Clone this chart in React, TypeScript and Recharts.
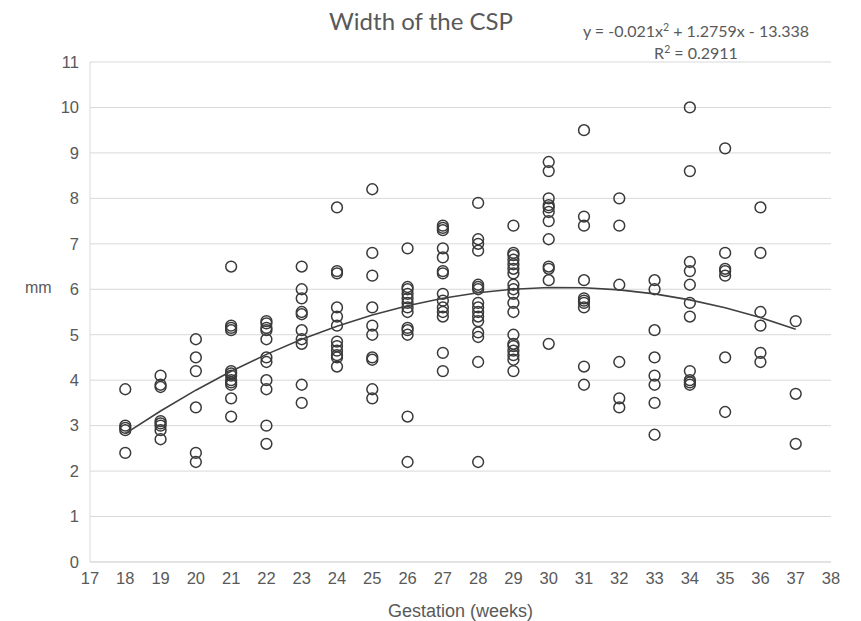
import React from "react";
import { ScatterChart, Scatter, XAxis, YAxis, CartesianGrid, Label } from "recharts";

const weeks = [18, 19, 20, 21, 22, 23, 24, 25, 26, 27, 28, 29, 30, 31, 32, 33, 34, 35, 36, 37];

const w18 = [3.8, 3.0, 2.95, 2.9, 2.4];
const w19 = [4.1, 3.9, 3.85, 3.1, 3.05, 3.0, 2.9, 2.7];
const w20 = [4.9, 4.5, 4.2, 3.4, 2.4, 2.2];
const w21 = [6.5, 5.2, 5.15, 5.1, 4.2, 4.15, 4.1, 4.0, 3.95, 3.9, 3.6, 3.2];
const w22 = [5.3, 5.25, 5.15, 5.1, 4.9, 4.5, 4.4, 4.0, 3.8, 3.0, 2.6];
const w23 = [6.5, 6.0, 5.8, 5.5, 5.45, 5.1, 4.9, 4.8, 3.9, 3.5];
const w24 = [7.8, 6.4, 6.35, 5.6, 5.4, 5.2, 4.85, 4.75, 4.65, 4.55, 4.5, 4.3];
const w25 = [8.2, 6.8, 6.3, 5.6, 5.2, 5.0, 4.5, 4.45, 3.8, 3.6];
const w26 = [6.9, 6.05, 6.0, 5.9, 5.8, 5.7, 5.6, 5.5, 5.15, 5.1, 5.0, 3.2, 2.2];
const w27 = [7.4, 7.35, 7.3, 6.9, 6.7, 6.4, 6.35, 5.9, 5.75, 5.6, 5.5, 5.4, 4.6, 4.2];
const w28 = [7.9, 7.1, 7.0, 6.85, 6.1, 6.05, 6.0, 5.7, 5.6, 5.5, 5.4, 5.3, 5.05, 4.95, 4.4, 2.2];
const w29 = [7.4, 6.8, 6.75, 6.65, 6.55, 6.45, 6.35, 6.1, 6.0, 5.9, 5.7, 5.5, 5.0, 4.8, 4.75, 4.65, 4.55, 4.45, 4.2];
const w30 = [8.8, 8.6, 8.0, 7.85, 7.8, 7.7, 7.5, 7.1, 6.5, 6.45, 6.2, 4.8];
const w31 = [9.5, 7.6, 7.4, 6.2, 5.8, 5.75, 5.7, 5.6, 4.3, 3.9];
const w32 = [8.0, 7.4, 6.1, 4.4, 3.6, 3.4];
const w33 = [6.2, 6.0, 5.1, 4.5, 4.1, 3.9, 3.5, 2.8];
const w34 = [10.0, 8.6, 6.6, 6.4, 6.1, 5.7, 5.4, 4.2, 4.0, 3.95, 3.9];
const w35 = [9.1, 6.8, 6.45, 6.4, 6.3, 4.5, 3.3];
const w36 = [7.8, 6.8, 5.5, 5.2, 4.6, 4.4];
const w37 = [5.3, 3.7, 2.6];

const valuesByWeek = [w18, w19, w20, w21, w22, w23, w24, w25, w26, w27, w28, w29, w30, w31, w32, w33, w34, w35, w36, w37];

// trend line values (y = -0.021x² + 1.2759x - 13.338) at each week
const trendValues = [2.824, 3.323, 3.78, 4.195, 4.568, 4.899, 5.188, 5.435, 5.639, 5.802, 5.923, 6.002, 6.039, 6.034, 5.987, 5.898, 5.767, 5.594, 5.378, 5.121];

const xTicks = [17, 18, 19, 20, 21, 22, 23, 24, 25, 26, 27, 28, 29, 30, 31, 32, 33, 34, 35, 36, 37, 38];
const yTicks = [0, 1, 2, 3, 4, 5, 6, 7, 8, 9, 10, 11];

const points = weeks.flatMap((w, i) => valuesByWeek[i].map((v) => ({ x: w, y: v })));
const trend = weeks.map((w, i) => ({ x: w, y: trendValues[i] }));

const OpenCircle = (props: any) => {
  const { cx, cy } = props;
  if (cx == null || cy == null) return <g />;
  return <circle cx={cx} cy={cy} r={5.4} fill="none" stroke="#3a3a3a" strokeWidth={1.5} />;
};
const NoShape = () => <g />;

const axisText = { fill: "#595959", fontSize: 16.5, fontFamily: "Liberation Sans, Arial, sans-serif" };
const supStyle: React.CSSProperties = { fontSize: 10.5, lineHeight: 0, verticalAlign: "super" };

export default function App() {
  return (
    <div style={{ position: "relative", width: 853, height: 613, background: "#fff" }}>
      <ScatterChart width={853} height={613} margin={{ top: 54, right: 30, bottom: 0, left: 0 }}>
        <CartesianGrid horizontal={true} vertical={false} stroke="#d9d9d9" strokeWidth={1} />
        <XAxis
          type="number"
          dataKey="x"
          domain={[17, 38]}
          ticks={xTicks}
          interval={0}
          allowDataOverflow
          tickLine={false}
          tickSize={0}
          tickMargin={10}
          axisLine={{ stroke: "#d9d9d9" }}
          tick={axisText}
          height={59}
        >
          <Label value="Gestation (weeks)" position="insideBottom" offset={4} style={{ fill: "#595959", fontSize: 18, fontFamily: "Liberation Sans, Arial, sans-serif" }} />
        </XAxis>
        <YAxis
          type="number"
          dataKey="y"
          domain={[0, 11]}
          ticks={yTicks}
          interval={0}
          allowDataOverflow
          tickLine={false}
          tickSize={0}
          tickMargin={11}
          axisLine={{ stroke: "#d9d9d9" }}
          tick={axisText}
          width={82}
        />
        <Scatter data={points} shape={OpenCircle} isAnimationActive={false} />
        <Scatter
          data={trend}
          shape={NoShape}
          line={{ stroke: "#404040", strokeWidth: 1.6 }}
          lineType="joint"
          isAnimationActive={false}
        />
      </ScatterChart>
      <div style={{ position: "absolute", left: 0, top: 0, width: 853, height: 613, pointerEvents: "none" }}>
        <div style={{ position: "absolute", left: 0, width: 826, top: -2, textAlign: "center", fontSize: 24, color: "#595959", fontFamily: "Lato, 'Open Sans', sans-serif" }}>
          Width of the CSP
        </div>
        <div style={{ position: "absolute", left: 560, width: 256, top: 12, textAlign: "center", fontSize: 16, lineHeight: "22px", color: "#595959", fontFamily: "Lato, 'Open Sans', sans-serif" }}>
          <div>y = -0.021x<span style={supStyle}>2</span> + 1.2759x - 13.338</div>
          <div>R<span style={supStyle}>2</span> = 0.2911</div>
        </div>
        <div style={{ position: "absolute", left: 17, top: 271, fontSize: 16, color: "#595959", fontFamily: "Liberation Sans, Arial, sans-serif" }}>
          mm
        </div>
      </div>
    </div>
  );
}
